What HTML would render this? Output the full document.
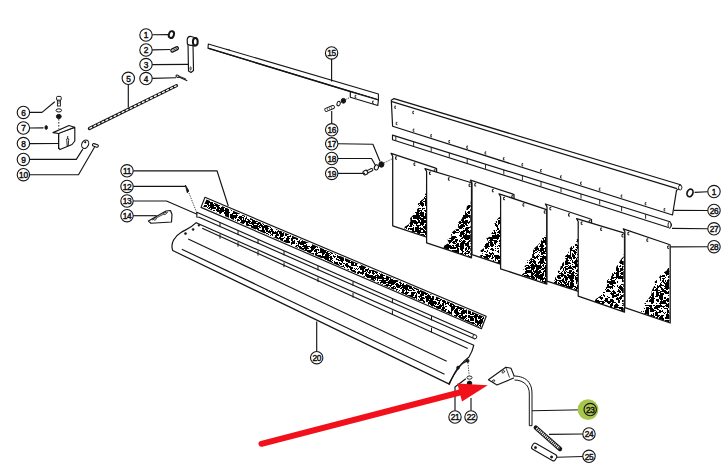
<!DOCTYPE html>
<html><head><meta charset="utf-8"><title>Parts diagram</title>
<style>
html,body{margin:0;padding:0;background:#fff;}
body{width:725px;height:465px;overflow:hidden;}
svg{display:block;}
svg text{font-family:"Liberation Sans",sans-serif;font-size:8.3px;text-anchor:middle;fill:#111;stroke:#111;stroke-width:0.42px;letter-spacing:-0.3px;}
</style></head><body>
<svg width="725" height="465" viewBox="0 0 725 465">
<rect width="725" height="465" fill="#fff"/>
<defs><filter id="tx0" x="0" y="0" width="1" height="1"><feTurbulence type="fractalNoise" baseFrequency="0.2" numOctaves="3" seed="3" result="n"/><feColorMatrix in="n" type="matrix" values="0 0 0 0 0 0 0 0 0 0 0 0 0 0 0 1 0 0 0 0" result="m"/><feComponentTransfer in="m" result="q"><feFuncA type="discrete" tableValues="1 1 1 1 1 1 1 1 1 1 1 1 1 1 1 1 1 1 0 0 0 0 1 1 1 1 1 1 1 1 1 1 1 1 1 1 1 1 1 1"/></feComponentTransfer><feComposite in="q" in2="SourceAlpha" operator="in"/></filter><filter id="tx1" x="0" y="0" width="1" height="1"><feTurbulence type="fractalNoise" baseFrequency="0.2" numOctaves="3" seed="8" result="n"/><feColorMatrix in="n" type="matrix" values="0 0 0 0 0 0 0 0 0 0 0 0 0 0 0 1 0 0 0 0" result="m"/><feComponentTransfer in="m" result="q"><feFuncA type="discrete" tableValues="1 1 1 1 1 1 1 1 1 1 1 1 1 1 1 1 1 0 0 0 0 0 1 1 1 1 1 1 1 1 1 1 1 1 1 1 1 1 1 1"/></feComponentTransfer><feComposite in="q" in2="SourceAlpha" operator="in"/></filter><filter id="tx2" x="0" y="0" width="1" height="1"><feTurbulence type="fractalNoise" baseFrequency="0.2" numOctaves="3" seed="13" result="n"/><feColorMatrix in="n" type="matrix" values="0 0 0 0 0 0 0 0 0 0 0 0 0 0 0 1 0 0 0 0" result="m"/><feComponentTransfer in="m" result="q"><feFuncA type="discrete" tableValues="1 1 1 1 1 1 1 1 1 1 1 1 1 1 1 1 1 0 0 0 0 0 1 1 1 1 1 1 1 1 1 1 1 1 1 1 1 1 1 1"/></feComponentTransfer><feComposite in="q" in2="SourceAlpha" operator="in"/></filter><filter id="tx3" x="0" y="0" width="1" height="1"><feTurbulence type="fractalNoise" baseFrequency="0.2" numOctaves="3" seed="18" result="n"/><feColorMatrix in="n" type="matrix" values="0 0 0 0 0 0 0 0 0 0 0 0 0 0 0 1 0 0 0 0" result="m"/><feComponentTransfer in="m" result="q"><feFuncA type="discrete" tableValues="1 1 1 1 1 1 1 1 1 1 1 1 1 1 1 1 1 1 0 0 0 0 1 1 1 1 1 1 1 1 1 1 1 1 1 1 1 1 1 1"/></feComponentTransfer><feComposite in="q" in2="SourceAlpha" operator="in"/></filter><filter id="tx4" x="0" y="0" width="1" height="1"><feTurbulence type="fractalNoise" baseFrequency="0.2" numOctaves="3" seed="23" result="n"/><feColorMatrix in="n" type="matrix" values="0 0 0 0 0 0 0 0 0 0 0 0 0 0 0 1 0 0 0 0" result="m"/><feComponentTransfer in="m" result="q"><feFuncA type="discrete" tableValues="1 1 1 1 1 1 1 1 1 1 1 1 1 1 1 1 1 0 0 0 0 0 1 1 1 1 1 1 1 1 1 1 1 1 1 1 1 1 1 1"/></feComponentTransfer><feComposite in="q" in2="SourceAlpha" operator="in"/></filter><filter id="tx5" x="0" y="0" width="1" height="1"><feTurbulence type="fractalNoise" baseFrequency="0.2" numOctaves="3" seed="28" result="n"/><feColorMatrix in="n" type="matrix" values="0 0 0 0 0 0 0 0 0 0 0 0 0 0 0 1 0 0 0 0" result="m"/><feComponentTransfer in="m" result="q"><feFuncA type="discrete" tableValues="1 1 1 1 1 1 1 1 1 1 1 1 1 1 1 1 0 0 0 0 0 0 1 1 1 1 1 1 1 1 1 1 1 1 1 1 1 1 1 1"/></feComponentTransfer><feComposite in="q" in2="SourceAlpha" operator="in"/></filter><filter id="tx6" x="0" y="0" width="1" height="1"><feTurbulence type="fractalNoise" baseFrequency="0.2" numOctaves="3" seed="33" result="n"/><feColorMatrix in="n" type="matrix" values="0 0 0 0 0 0 0 0 0 0 0 0 0 0 0 1 0 0 0 0" result="m"/><feComponentTransfer in="m" result="q"><feFuncA type="discrete" tableValues="1 1 1 1 1 1 1 1 1 1 1 1 1 1 1 1 1 0 0 0 0 0 1 1 1 1 1 1 1 1 1 1 1 1 1 1 1 1 1 1"/></feComponentTransfer><feComposite in="q" in2="SourceAlpha" operator="in"/></filter><filter id="ty" x="0" y="0" width="1" height="1"><feTurbulence type="fractalNoise" baseFrequency="0.2" numOctaves="3" seed="5" result="n"/><feColorMatrix in="n" type="matrix" values="0 0 0 0 0 0 0 0 0 0 0 0 0 0 0 1 0 0 0 0" result="m"/><feComponentTransfer in="m" result="q"><feFuncA type="discrete" tableValues="1 1 1 1 1 1 1 1 1 1 1 1 1 1 1 1 1 1 0 0 0 0 1 1 1 1 1 1 1 1 1 1 1 1 1 1 1 1 1 1"/></feComponentTransfer><feComposite in="q" in2="SourceAlpha" operator="in"/></filter></defs>
<polygon points="391.3,100.2 394,98.6 680.5,184.8 681.5,187.5 676.5,190.3 672.5,215 392.6,126.3" stroke="#141414" stroke-width="1.2" fill="#fff" stroke-linejoin="round" /><line x1="392" y1="101.6" x2="677" y2="188.6" stroke="#141414" stroke-width="1.2" /><ellipse cx="690" cy="192.9" rx="2.9" ry="3.9" stroke="#141414" stroke-width="1.7" fill="#fff" transform="rotate(20 690 192.9)"/><ellipse cx="680.2" cy="187.6" rx="1.7" ry="2.4" stroke="#141414" stroke-width="0.9" fill="#fff" transform="rotate(0 680.2 187.6)"/><path d="M396,106.1 h-1.2 v2.2 h1.2" stroke="#141414" stroke-width="0.9" fill="none"/><path d="M414,111.4 h-1.2 v2.2 h1.2" stroke="#141414" stroke-width="0.9" fill="none"/><path d="M397.4,122.4 h-1.2 v2.2 h1.2" stroke="#141414" stroke-width="0.9" fill="none"/><path d="M414.4,129.1 h-1.2 v2.2 h1.2" stroke="#141414" stroke-width="0.9" fill="none"/><path d="M432,134.7 h-1.2 v2.2 h1.2" stroke="#141414" stroke-width="0.9" fill="none"/><path d="M450.1,140.5 h-1.2 v2.2 h1.2" stroke="#141414" stroke-width="0.9" fill="none"/><path d="M468,146.1 h-1.2 v2.2 h1.2" stroke="#141414" stroke-width="0.9" fill="none"/><path d="M486.3,151.9 h-1.2 v2.2 h1.2" stroke="#141414" stroke-width="0.9" fill="none"/><path d="M504.6,157.7 h-1.2 v2.2 h1.2" stroke="#141414" stroke-width="0.9" fill="none"/><path d="M523.2,163.6 h-1.2 v2.2 h1.2" stroke="#141414" stroke-width="0.9" fill="none"/><path d="M541.8,169.5 h-1.2 v2.2 h1.2" stroke="#141414" stroke-width="0.9" fill="none"/><path d="M561.8,175.8 h-1.2 v2.2 h1.2" stroke="#141414" stroke-width="0.9" fill="none"/><path d="M581.8,182.1 h-1.2 v2.2 h1.2" stroke="#141414" stroke-width="0.9" fill="none"/><path d="M600.5,188.1 h-1.2 v2.2 h1.2" stroke="#141414" stroke-width="0.9" fill="none"/><path d="M622.4,195 h-1.2 v2.2 h1.2" stroke="#141414" stroke-width="0.9" fill="none"/><path d="M646.4,202.6 h-1.2 v2.2 h1.2" stroke="#141414" stroke-width="0.9" fill="none"/><path d="M665.3,208.6 h-1.2 v2.2 h1.2" stroke="#141414" stroke-width="0.9" fill="none"/><polygon points="392.5,135.1 670,221.8 671.5,225 670,228 392.5,139.7" stroke="#141414" stroke-width="1.15" fill="#fff" stroke-linejoin="round" /><ellipse cx="669.5" cy="225" rx="1.5" ry="3" stroke="#141414" stroke-width="0.9" fill="#fff" transform="rotate(0 669.5 225)"/><line x1="395.8" y1="136.1" x2="395.8" y2="140.7" stroke="#141414" stroke-width="0.9" /><line x1="413.6" y1="141.7" x2="413.6" y2="146.3" stroke="#141414" stroke-width="0.9" /><line x1="431.2" y1="147.2" x2="431.2" y2="151.8" stroke="#141414" stroke-width="0.9" /><line x1="449.3" y1="152.9" x2="449.3" y2="157.5" stroke="#141414" stroke-width="0.9" /><line x1="467.2" y1="158.5" x2="467.2" y2="163.1" stroke="#141414" stroke-width="0.9" /><line x1="485.5" y1="164.2" x2="485.5" y2="168.8" stroke="#141414" stroke-width="0.9" /><line x1="503.8" y1="169.9" x2="503.8" y2="174.5" stroke="#141414" stroke-width="0.9" /><line x1="522.4" y1="175.7" x2="522.4" y2="180.3" stroke="#141414" stroke-width="0.9" /><line x1="541" y1="181.5" x2="541" y2="186.1" stroke="#141414" stroke-width="0.9" /><line x1="561" y1="187.8" x2="561" y2="192.4" stroke="#141414" stroke-width="0.9" /><line x1="581" y1="194" x2="581" y2="198.6" stroke="#141414" stroke-width="0.9" /><line x1="599.7" y1="199.9" x2="599.7" y2="204.5" stroke="#141414" stroke-width="0.9" /><line x1="621.6" y1="206.7" x2="621.6" y2="211.3" stroke="#141414" stroke-width="0.9" /><line x1="645.6" y1="214.2" x2="645.6" y2="218.8" stroke="#141414" stroke-width="0.9" /><polygon points="391.1,153.4 434.2,167.7 436.6,168.7 436.6,240.5 392.7,225.8 392.7,156.3" fill="#fff" stroke="#141414" stroke-width="1.25" stroke-linejoin="round"/><polygon points="435.8,239.9 404.5,229.1 404.7,226.8 409.2,224 410.5,221.2 410.1,218.3 412.8,215.5 414.2,212.7 416.7,209.9 418.9,207.1 417.8,204.3 419.2,201.4 424,198.6 424.1,195.8 426,193 428.8,190.2 427.5,187.3 431.1,184.5 434,181.7 433.7,178.8 435.8,176" fill="#000" filter="url(#tx0)"/><path d="M397,156.8 h-1.4 v2.4 h1.4" stroke="#141414" stroke-width="1" fill="none"/><path d="M415.4,163 h-1.4 v2.4 h1.4" stroke="#141414" stroke-width="1" fill="none"/><path d="M435.6,169.8 h-1.4 v2.4 h1.4" stroke="#141414" stroke-width="1" fill="none"/><polygon points="425,168.6 469.1,182 471.5,183 471.5,257.8 426.6,242.9 426.6,171.5" fill="#fff" stroke="#141414" stroke-width="1.25" stroke-linejoin="round"/><polygon points="470.7,257.2 443.5,248.1 444.2,245.7 449,242.7 447.4,239.8 451.6,236.8 450.9,233.8 453.4,230.9 458.2,227.9 458,225 458.5,221.9 461.9,218.8 462.9,215.6 464.6,212.5 466.4,209.4 466.9,206.2 471.1,203.1 470.7,200" fill="#000" filter="url(#tx1)"/><path d="M430.9,172 h-1.4 v2.4 h1.4" stroke="#141414" stroke-width="1" fill="none"/><path d="M449.8,177.8 h-1.4 v2.4 h1.4" stroke="#141414" stroke-width="1" fill="none"/><path d="M470.5,184.1 h-1.4 v2.4 h1.4" stroke="#141414" stroke-width="1" fill="none"/><polygon points="470.4,180.2 511.6,193.6 514,194.6 514,268.6 472,254.6 472,183.1" fill="#fff" stroke="#141414" stroke-width="1.25" stroke-linejoin="round"/><polygon points="513.2,268 479.2,256.3 482.5,253.8 480.2,250.8 484.5,247.8 483.7,244.8 488.5,241.8 486,238.8 490.9,235.9 491.6,232.9 493.8,229.9 495.8,226.9 494.2,223.9 496.1,220.9 498.2,217.9 501.7,215.8 502.6,213.6 505.2,211.4 507.6,209.3 512.8,207.2 513.2,205" fill="#000" filter="url(#tx2)"/><path d="M476.2,183.6 h-1.4 v2.4 h1.4" stroke="#141414" stroke-width="1" fill="none"/><path d="M493.8,189.4 h-1.4 v2.4 h1.4" stroke="#141414" stroke-width="1" fill="none"/><path d="M513.2,195.7 h-1.4 v2.4 h1.4" stroke="#141414" stroke-width="1" fill="none"/><polygon points="499,193.8 544.4,208.8 546.8,209.8 546.8,284.2 500.6,268.8 500.6,196.7" fill="#fff" stroke="#141414" stroke-width="1.25" stroke-linejoin="round"/><polygon points="546,283.6 521.6,275.1 524.8,272.1 523,268.5 525.8,265 526,261.3 532.1,257.7 532.2,254 532.9,251 534.5,248 538,245 540.8,241.8 541.8,238.5 546.2,235.2 546,232" fill="#000" filter="url(#tx3)"/><path d="M505,197.3 h-1.4 v2.4 h1.4" stroke="#141414" stroke-width="1" fill="none"/><path d="M524.4,203.7 h-1.4 v2.4 h1.4" stroke="#141414" stroke-width="1" fill="none"/><path d="M545.7,210.8 h-1.4 v2.4 h1.4" stroke="#141414" stroke-width="1" fill="none"/><polygon points="545.4,204 589.1,218.5 591.5,219.5 591.5,295.6 547,281.2 547,206.9" fill="#fff" stroke="#141414" stroke-width="1.25" stroke-linejoin="round"/><polygon points="590.7,295 553,282.7 554.6,280.3 555.2,277.4 558.6,274.5 557.8,271.6 560.1,268.7 560.9,265.8 562.6,262.9 566.3,260 564.2,257.1 567.2,254.2 568.8,251.4 569.7,248.5 572,245.7 576.4,242.8 576.2,240 578.6,238.4 582.8,236.8 585.1,235.2 589.4,233.6 590.7,232" fill="#000" filter="url(#tx4)"/><path d="M551.3,207.4 h-1.4 v2.4 h1.4" stroke="#141414" stroke-width="1" fill="none"/><path d="M570,213.7 h-1.4 v2.4 h1.4" stroke="#141414" stroke-width="1" fill="none"/><path d="M590.5,220.6 h-1.4 v2.4 h1.4" stroke="#141414" stroke-width="1" fill="none"/><polygon points="576.6,218.6 622.1,232.4 624.5,233.4 624.5,312.2 578.2,296.2 578.2,221.5" fill="#fff" stroke="#141414" stroke-width="1.25" stroke-linejoin="round"/><polygon points="623.7,311.6 594.5,301.5 595.8,299 600.3,296 602.1,293 603.9,290 605.3,287 607.6,284 606.1,281 610,278 612.1,275.2 612.2,272.4 615.8,269.7 616.2,266.9 618.3,264.1 619.8,261.3 621.6,258.6 624.2,255.8 623.7,253" fill="#000" filter="url(#tx5)"/><path d="M582.6,222 h-1.4 v2.4 h1.4" stroke="#141414" stroke-width="1" fill="none"/><path d="M602.1,228 h-1.4 v2.4 h1.4" stroke="#141414" stroke-width="1" fill="none"/><path d="M623.4,234.5 h-1.4 v2.4 h1.4" stroke="#141414" stroke-width="1" fill="none"/><polygon points="623.3,228.9 667.8,244 670.2,245 670.2,323 624.9,307.7 624.9,231.8" fill="#fff" stroke="#141414" stroke-width="1.25" stroke-linejoin="round"/><polygon points="669.4,322.4 641.3,312.5 641,309.8 645.1,306.7 644.4,303.5 647.2,300.3 649.5,297.2 651.5,294 651.6,290.8 653.3,287.7 654.8,284.5 654.8,281.6 658.4,278.7 660.1,275.8 662.6,272.9 666.5,270.8 667.9,268.6 669.4,266.5" fill="#000" filter="url(#tx6)"/><path d="M629.3,232.4 h-1.4 v2.4 h1.4" stroke="#141414" stroke-width="1" fill="none"/><path d="M648.3,238.9 h-1.4 v2.4 h1.4" stroke="#141414" stroke-width="1" fill="none"/><path d="M669.1,246 h-1.4 v2.4 h1.4" stroke="#141414" stroke-width="1" fill="none"/><polygon points="205,197.3 486.2,316.3 481.4,328.7 201,207.4" stroke="#141414" stroke-width="1.15" fill="#fff" stroke-linejoin="round" /><polygon points="206.5,199.6 485,317.2 480.6,327.6 203.2,206.6" fill="#000" filter="url(#ty)"/><path d="M196.2,222.7 C191,228 186,229.5 181,232.5 C175,236 170,243 172.7,250.5 L448.8,383.9 C454,374 462,362 469,357 C471.5,353 473,349 473.8,345.2 Z" stroke="#141414" stroke-width="1.2" fill="#fff" stroke-linejoin="round" /><ellipse cx="185.5" cy="233.6" rx="1.1" ry="1" stroke="#141414" stroke-width="0.6" fill="#141414" transform="rotate(0 185.5 233.6)"/><ellipse cx="193.1" cy="229.4" rx="1" ry="1" stroke="#141414" stroke-width="0.6" fill="#141414" transform="rotate(0 193.1 229.4)"/><ellipse cx="198.9" cy="225.3" rx="0.9" ry="1" stroke="#141414" stroke-width="0.6" fill="#141414" transform="rotate(0 198.9 225.3)"/><line x1="202.2" y1="228.2" x2="467.7" y2="348.4" stroke="#141414" stroke-width="1.15" /><line x1="220" y1="234.2" x2="220" y2="238.8" stroke="#141414" stroke-width="1.0" /><line x1="238" y1="242.2" x2="238" y2="246.8" stroke="#141414" stroke-width="1.0" /><line x1="258" y1="251" x2="258" y2="255.6" stroke="#141414" stroke-width="1.0" /><line x1="284" y1="262.5" x2="284" y2="267.1" stroke="#141414" stroke-width="1.0" /><line x1="318" y1="277.5" x2="318" y2="282.1" stroke="#141414" stroke-width="1.0" /><line x1="353" y1="293" x2="353" y2="297.6" stroke="#141414" stroke-width="1.0" /><line x1="392.4" y1="310.4" x2="392.4" y2="315" stroke="#141414" stroke-width="1.0" /><line x1="431.5" y1="327.7" x2="431.5" y2="332.3" stroke="#141414" stroke-width="1.0" /><line x1="188.2" y1="238.9" x2="446.7" y2="361.3" stroke="#141414" stroke-width="1.15" /><line x1="181.8" y1="249.2" x2="444.5" y2="374.2" stroke="#141414" stroke-width="1.15" /><polygon points="196.8,212.3 474.6,334.8 476.6,336.8 474.6,338.8 199.2,217.2 196.8,217" stroke="#141414" stroke-width="1.15" fill="#fff" stroke-linejoin="round" /><circle cx="474.8" cy="336.8" r="2" stroke="#141414" stroke-width="0.9" fill="#fff"/><line x1="220" y1="222.8" x2="220" y2="227.1" stroke="#141414" stroke-width="1.0" /><line x1="238" y1="230.8" x2="238" y2="235.1" stroke="#141414" stroke-width="1.0" /><line x1="258" y1="239.6" x2="258" y2="243.9" stroke="#141414" stroke-width="1.0" /><line x1="284" y1="251.1" x2="284" y2="255.4" stroke="#141414" stroke-width="1.0" /><line x1="318" y1="266" x2="318" y2="270.3" stroke="#141414" stroke-width="1.0" /><line x1="353" y1="281.5" x2="353" y2="285.8" stroke="#141414" stroke-width="1.0" /><line x1="392.4" y1="298.9" x2="392.4" y2="303.2" stroke="#141414" stroke-width="1.0" /><line x1="431.5" y1="316.1" x2="431.5" y2="320.4" stroke="#141414" stroke-width="1.0" /><ellipse cx="458" cy="367.7" rx="1.3" ry="1.6" stroke="#141414" stroke-width="0.8" fill="#141414" transform="rotate(0 458 367.7)"/><ellipse cx="467.7" cy="360.8" rx="1.3" ry="1.6" stroke="#141414" stroke-width="0.8" fill="#141414" transform="rotate(0 467.7 360.8)"/><path d="M449,385 C452,378 455,372 458,367.7 C461,364 464,362 467.7,360.6" stroke="#141414" stroke-width="1.15" fill="none" stroke-linejoin="round" /><line x1="467.9" y1="362.5" x2="469.2" y2="375.5" stroke="#141414" stroke-width="0.8" stroke-dasharray="1.3 1.2"/><ellipse cx="469.5" cy="377.6" rx="2.6" ry="1.6" stroke="#141414" stroke-width="0.9" fill="#fff" transform="rotate(0 469.5 377.6)"/><ellipse cx="469.5" cy="383.2" rx="2.3" ry="2.1" stroke="#141414" stroke-width="0.9" fill="#141414" transform="rotate(0 469.5 383.2)"/><ellipse cx="171.4" cy="34.6" rx="2.5" ry="3.5" stroke="#141414" stroke-width="1.9" fill="#fff" transform="rotate(18 171.4 34.6)"/><rect x="-4" y="-1.5" width="8" height="3" rx="1.4" fill="#fff" stroke="#141414" stroke-width="1.3" transform="translate(174.6 49.4) rotate(-26)"/><line x1="172.6" y1="50.4" x2="177.2" y2="48.2" stroke="#141414" stroke-width="0.7" /><polygon points="188,44 193,44.5 193.5,70.5 191,72.5 188.5,71" stroke="#141414" stroke-width="1.15" fill="#fff" stroke-linejoin="round" /><ellipse cx="190.6" cy="68.5" rx="0.6" ry="1.6" stroke="#141414" stroke-width="0.8" fill="#fff" transform="rotate(0 190.6 68.5)"/><path d="M187.4,44 L187.2,39.5 Q187.6,36.6 190.3,36.3 L195.2,37.8 L195.2,45.8 L189.5,45.2 Z" stroke="#141414" stroke-width="1.2" fill="#fff" stroke-linejoin="round" /><ellipse cx="195.3" cy="41.8" rx="2.4" ry="3.8" stroke="#141414" stroke-width="2.0" fill="#fff" transform="rotate(0 195.3 41.8)"/><ellipse cx="177.5" cy="76.2" rx="1.6" ry="1.1" stroke="#141414" stroke-width="1.0" fill="#fff" transform="rotate(20 177.5 76.2)"/><line x1="179" y1="77" x2="187.3" y2="80.8" stroke="#141414" stroke-width="1.1" /><line x1="179" y1="76.2" x2="186" y2="79" stroke="#141414" stroke-width="0.9" /><line x1="89.4" y1="128.5" x2="176.5" y2="85.6" stroke="#141414" stroke-width="3.2" stroke-linecap="round"/><line x1="89.4" y1="128.5" x2="176.5" y2="85.6" stroke="#fff" stroke-width="1.3" stroke-dasharray="3.0 1.5"/><rect x="56.6" y="96.4" width="4.6" height="4" rx="1" fill="#fff" stroke="#141414" stroke-width="1"/><rect x="57.4" y="100.2" width="3" height="5.8" fill="#fff" stroke="#141414" stroke-width="0.9"/><line x1="57.6" y1="102" x2="60.2" y2="101.3" stroke="#141414" stroke-width="0.6" /><line x1="57.6" y1="103.5" x2="60.2" y2="102.8" stroke="#141414" stroke-width="0.6" /><ellipse cx="58.8" cy="110.4" rx="2.8" ry="1.6" stroke="#141414" stroke-width="1.0" fill="#fff" transform="rotate(0 58.8 110.4)"/><ellipse cx="58.8" cy="116.5" rx="2.4" ry="2.1" stroke="#141414" stroke-width="1.0" fill="#141414" transform="rotate(0 58.8 116.5)"/><line x1="58.8" y1="119" x2="58.8" y2="128.7" stroke="#141414" stroke-width="0.9" stroke-dasharray="1.6 1.4"/><ellipse cx="46.2" cy="127.5" rx="1.3" ry="1.9" stroke="#141414" stroke-width="0.8" fill="#141414" transform="rotate(0 46.2 127.5)"/><polygon points="58.6,133 74.8,127.4 74.8,141 72,144.5 60,149.5 58.6,148" stroke="#141414" stroke-width="1.15" fill="#fff" stroke-linejoin="round" /><polygon points="53,132.6 69,125.5 74.5,127.3 58.6,133.5" stroke="#141414" stroke-width="1.15" fill="#fff" stroke-linejoin="round" /><line x1="58.6" y1="133.5" x2="58.6" y2="149" stroke="#141414" stroke-width="1.1" /><path d="M67.7,136 v3 M66.8,140.5 a1,1.4 0 1 1 1.8,0 l-0.4,5.5 h-1 z" stroke="#141414" stroke-width="0.9" fill="#fff"/><ellipse cx="85.2" cy="144.2" rx="3.3" ry="4.4" stroke="#141414" stroke-width="1.1" fill="#fff" transform="rotate(25 85.2 144.2)"/><ellipse cx="85.3" cy="142.2" rx="0.8" ry="0.9" stroke="#141414" stroke-width="0.5" fill="#141414" transform="rotate(0 85.3 142.2)"/><rect x="-3" y="-1.3" width="6" height="2.6" rx="1.2" fill="#fff" stroke="#141414" stroke-width="1.1" transform="translate(95.4 145.4) rotate(18)"/><polygon points="208.3,44 378.4,94 378.4,100 208,48.2" stroke="#141414" stroke-width="1.1" fill="#fff" stroke-linejoin="round" /><line x1="208" y1="48.2" x2="378.4" y2="100" stroke="#141414" stroke-width="1.4" /><polygon points="350.3,91.8 378.4,100 377.8,105.5 350.3,97.3" stroke="#141414" stroke-width="1.15" fill="#fff" stroke-linejoin="round" /><path d="M356.3,95.4 h-1.2 v2.2 h1.2" stroke="#141414" stroke-width="0.9" fill="none"/><path d="M373.8,101.1 h-1.2 v2.2 h1.2" stroke="#141414" stroke-width="0.9" fill="none"/><line x1="226" y1="49.2" x2="230" y2="50" stroke="#141414" stroke-width="0.8" /><rect x="-5" y="-1.6" width="10" height="3.2" rx="1.2" fill="#fff" stroke="#141414" stroke-width="0.9" transform="translate(329.6 108.4) rotate(-22)"/><line x1="327" y1="108" x2="327.8" y2="110.4" stroke="#141414" stroke-width="0.6" /><line x1="329" y1="107.3" x2="329.8" y2="109.7" stroke="#141414" stroke-width="0.6" /><line x1="331" y1="106.5" x2="331.8" y2="108.9" stroke="#141414" stroke-width="0.6" /><ellipse cx="338.6" cy="103.6" rx="1.6" ry="2.3" stroke="#141414" stroke-width="1.0" fill="#fff" transform="rotate(20 338.6 103.6)"/><ellipse cx="343.4" cy="100.8" rx="2.2" ry="2.4" stroke="#141414" stroke-width="1.0" fill="#141414" transform="rotate(0 343.4 100.8)"/><line x1="345.5" y1="99.6" x2="350" y2="97.5" stroke="#141414" stroke-width="0.8" stroke-dasharray="1.3 1.2"/><ellipse cx="381.4" cy="164.5" rx="2.5" ry="2.7" stroke="#141414" stroke-width="1.0" fill="#141414" transform="rotate(0 381.4 164.5)"/><ellipse cx="376.4" cy="167.4" rx="2" ry="2.6" stroke="#141414" stroke-width="1.1" fill="#fff" transform="rotate(20 376.4 167.4)"/><rect x="-3" y="-1.2" width="7" height="2.4" rx="0.8" fill="#fff" stroke="#141414" stroke-width="1" transform="translate(369 171) rotate(-26)"/><rect x="-2.2" y="-2" width="4.4" height="4" rx="1.2" fill="#fff" stroke="#141414" stroke-width="1.1" transform="translate(365.4 172.6) rotate(-26)"/><line x1="384" y1="163" x2="392.8" y2="158.5" stroke="#141414" stroke-width="0.8" stroke-dasharray="1.3 1.2"/><path d="M185.3,185 l1.5,2.5 l2,3.5 l-1.5,1.8 z" stroke="#141414" stroke-width="0.9" fill="#141414" stroke-linejoin="round" /><line x1="189" y1="193" x2="197.3" y2="214.2" stroke="#141414" stroke-width="0.8" stroke-dasharray="1.3 1.2"/><polygon points="148.4,221 166,211 170.5,210.5 172,214.5 171.5,222 151,223.3" stroke="#141414" stroke-width="1.15" fill="#fff" stroke-linejoin="round" /><line x1="152" y1="220" x2="168" y2="212" stroke="#141414" stroke-width="0.8" /><ellipse cx="155" cy="219" rx="1.4" ry="0.9" stroke="#141414" stroke-width="0.8" fill="#fff" transform="rotate(-25 155 219)"/><ellipse cx="165" cy="213.5" rx="1.4" ry="0.9" stroke="#141414" stroke-width="0.8" fill="#fff" transform="rotate(-25 165 213.5)"/><polygon points="488.4,379.8 505.8,367.2 511,368.2 514.8,377.6 497,385" stroke="#141414" stroke-width="1.1" fill="#fff" stroke-linejoin="round" /><line x1="505.8" y1="367.2" x2="509.5" y2="377.5" stroke="#141414" stroke-width="0.8" /><ellipse cx="493.4" cy="381" rx="1.5" ry="1" stroke="#141414" stroke-width="0.8" fill="#fff" transform="rotate(-30 493.4 381)"/><ellipse cx="503.3" cy="371.8" rx="1.5" ry="1" stroke="#141414" stroke-width="0.8" fill="#fff" transform="rotate(-30 503.3 371.8)"/><path d="M513.5,376 C520,376 526,378 529,382.5 C531.5,386 532,390 532,394 L532,425.7 L529.3,425.7 L529.3,394 C529.3,390 528.5,387.5 526.5,385 C523.5,381.5 519,380 514.5,380" stroke="#141414" stroke-width="1.0" fill="#fff" stroke-linejoin="round" /><line x1="535.8" y1="427.6" x2="560" y2="449" stroke="#141414" stroke-width="4.4" stroke-linecap="round"/><line x1="536.5" y1="428.2" x2="559.3" y2="448.4" stroke="#fff" stroke-width="2.4" stroke-dasharray="1.1 0.9"/><rect x="-13.5" y="-3.4" width="27" height="6.8" rx="2.2" fill="#fff" stroke="#141414" stroke-width="1.1" transform="translate(544.2 452) rotate(30)"/><ellipse cx="535.5" cy="447.6" rx="1.1" ry="1.1" stroke="#141414" stroke-width="0.8" fill="#141414" transform="rotate(0 535.5 447.6)"/><ellipse cx="551.6" cy="457" rx="1.1" ry="1.1" stroke="#141414" stroke-width="0.8" fill="#141414" transform="rotate(0 551.6 457)"/><line x1="152.2" y1="34.8" x2="169" y2="34.6" stroke="#141414" stroke-width="1.15" /><line x1="152.2" y1="49.9" x2="170" y2="49.5" stroke="#141414" stroke-width="1.15" /><line x1="152.2" y1="64.6" x2="188" y2="64.4" stroke="#141414" stroke-width="1.15" /><line x1="152.2" y1="78.4" x2="176" y2="77.8" stroke="#141414" stroke-width="1.15" /><line x1="128.3" y1="84.5" x2="128.3" y2="107.6" stroke="#141414" stroke-width="1.15" /><polyline points="29.6,112.4 42,112.4 54.8,101.8" stroke="#141414" stroke-width="1.15" fill="none" stroke-linejoin="round" /><line x1="29.6" y1="128" x2="43.5" y2="127.9" stroke="#141414" stroke-width="1.15" /><line x1="29.6" y1="143.6" x2="58.5" y2="143.5" stroke="#141414" stroke-width="1.15" /><polyline points="29.6,159.4 76.3,159.4 82.8,149.1" stroke="#141414" stroke-width="1.15" fill="none" stroke-linejoin="round" /><polyline points="29.6,174.7 78.5,174.7 94.6,147" stroke="#141414" stroke-width="1.15" fill="none" stroke-linejoin="round" /><polyline points="133.2,170.8 217,170.8 228.3,206" stroke="#141414" stroke-width="1.15" fill="none" stroke-linejoin="round" /><line x1="133.2" y1="186.4" x2="185.3" y2="186.4" stroke="#141414" stroke-width="1.15" /><polyline points="133.2,201 166.5,201 196.5,214" stroke="#141414" stroke-width="1.15" fill="none" stroke-linejoin="round" /><line x1="133.2" y1="215.7" x2="156.7" y2="215.7" stroke="#141414" stroke-width="1.15" /><line x1="331.6" y1="59.1" x2="331.6" y2="81.5" stroke="#141414" stroke-width="1.15" /><line x1="331.7" y1="123.6" x2="331.7" y2="111" stroke="#141414" stroke-width="1.15" /><polyline points="337.9,143.8 372.9,144.2 380,161.5" stroke="#141414" stroke-width="1.15" fill="none" stroke-linejoin="round" /><polyline points="337.9,158.5 371.5,158.5 375.8,166" stroke="#141414" stroke-width="1.15" fill="none" stroke-linejoin="round" /><line x1="337.9" y1="173.4" x2="365" y2="173.4" stroke="#141414" stroke-width="1.15" /><line x1="316.7" y1="351.5" x2="316.7" y2="321.6" stroke="#141414" stroke-width="1.15" /><polyline points="455,410.8 455,387 465.8,378.7" stroke="#141414" stroke-width="1.15" fill="none" stroke-linejoin="round" /><line x1="471" y1="410.8" x2="471" y2="398" stroke="#141414" stroke-width="1.15" /><line x1="532" y1="410.8" x2="584" y2="409.8" stroke="#141414" stroke-width="1.15" /><line x1="549" y1="434.4" x2="582.8" y2="434" stroke="#141414" stroke-width="1.15" /><line x1="557" y1="457.2" x2="582.8" y2="456.5" stroke="#141414" stroke-width="1.15" /><line x1="694.6" y1="192.4" x2="707.8" y2="191.8" stroke="#141414" stroke-width="1.15" /><line x1="674" y1="210.3" x2="707.8" y2="210.5" stroke="#141414" stroke-width="1.15" /><line x1="672" y1="228.4" x2="707.8" y2="228.8" stroke="#141414" stroke-width="1.15" /><line x1="670.5" y1="246.8" x2="707.8" y2="246.7" stroke="#141414" stroke-width="1.15" /><line x1="261.5" y1="443.8" x2="461.6" y2="392" stroke="#f2101a" stroke-width="6" stroke-linecap="round"/><polygon points="487.7,385.2 462,401.6 457.3,383.4" fill="#f2101a"/><circle cx="146" cy="35" r="6.2" stroke="#141414" stroke-width="1.1" fill="#fff"/><text x="146" y="38.3">1</text><circle cx="146" cy="50" r="6.2" stroke="#141414" stroke-width="1.1" fill="#fff"/><text x="146" y="53.3">2</text><circle cx="146" cy="64.6" r="6.2" stroke="#141414" stroke-width="1.1" fill="#fff"/><text x="146" y="67.9">3</text><circle cx="146" cy="78.6" r="6.2" stroke="#141414" stroke-width="1.1" fill="#fff"/><text x="146" y="81.9">4</text><circle cx="128.3" cy="78.3" r="6.2" stroke="#141414" stroke-width="1.1" fill="#fff"/><text x="128.3" y="81.6">5</text><circle cx="23.4" cy="112.4" r="6.2" stroke="#141414" stroke-width="1.1" fill="#fff"/><text x="23.4" y="115.7">6</text><circle cx="23.4" cy="128" r="6.2" stroke="#141414" stroke-width="1.1" fill="#fff"/><text x="23.4" y="131.3">7</text><circle cx="23.4" cy="143.6" r="6.2" stroke="#141414" stroke-width="1.1" fill="#fff"/><text x="23.4" y="146.9">8</text><circle cx="23.4" cy="159.4" r="6.2" stroke="#141414" stroke-width="1.1" fill="#fff"/><text x="23.4" y="162.7">9</text><circle cx="23.4" cy="174.7" r="6.2" stroke="#141414" stroke-width="1.1" fill="#fff"/><text x="23.4" y="178">10</text><circle cx="127" cy="170.8" r="6.2" stroke="#141414" stroke-width="1.1" fill="#fff"/><text x="127" y="174.1">11</text><circle cx="127" cy="186.4" r="6.2" stroke="#141414" stroke-width="1.1" fill="#fff"/><text x="127" y="189.7">12</text><circle cx="127" cy="201" r="6.2" stroke="#141414" stroke-width="1.1" fill="#fff"/><text x="127" y="204.3">13</text><circle cx="127" cy="215.7" r="6.2" stroke="#141414" stroke-width="1.1" fill="#fff"/><text x="127" y="219">14</text><circle cx="331.6" cy="52.9" r="6.2" stroke="#141414" stroke-width="1.1" fill="#fff"/><text x="331.6" y="56.2">15</text><circle cx="331.7" cy="129.8" r="6.2" stroke="#141414" stroke-width="1.1" fill="#fff"/><text x="331.7" y="133.1">16</text><circle cx="331.7" cy="143.8" r="6.2" stroke="#141414" stroke-width="1.1" fill="#fff"/><text x="331.7" y="147.1">17</text><circle cx="331.7" cy="158.5" r="6.2" stroke="#141414" stroke-width="1.1" fill="#fff"/><text x="331.7" y="161.8">18</text><circle cx="331.7" cy="173.4" r="6.2" stroke="#141414" stroke-width="1.1" fill="#fff"/><text x="331.7" y="176.7">19</text><circle cx="316.7" cy="357.7" r="6.2" stroke="#141414" stroke-width="1.1" fill="#fff"/><text x="316.7" y="361">20</text><circle cx="455" cy="417" r="6.2" stroke="#141414" stroke-width="1.1" fill="#fff"/><text x="455" y="420.3">21</text><circle cx="471" cy="417" r="6.2" stroke="#141414" stroke-width="1.1" fill="#fff"/><text x="471" y="420.3">22</text><circle cx="588" cy="409.6" r="10.4" fill="#a8c64c"/><circle cx="590.2" cy="409.6" r="6.2" stroke="#141414" stroke-width="1.1" fill="none"/><text x="590.2" y="412.9">23</text><circle cx="589" cy="433.9" r="6.2" stroke="#141414" stroke-width="1.1" fill="#fff"/><text x="589" y="437.2">24</text><circle cx="589" cy="456.3" r="6.2" stroke="#141414" stroke-width="1.1" fill="#fff"/><text x="589" y="459.6">25</text><circle cx="714" cy="191.6" r="6.2" stroke="#141414" stroke-width="1.1" fill="#fff"/><text x="714" y="194.9">1</text><circle cx="714" cy="210.5" r="6.2" stroke="#141414" stroke-width="1.1" fill="#fff"/><text x="714" y="213.8">26</text><circle cx="714" cy="228.8" r="6.2" stroke="#141414" stroke-width="1.1" fill="#fff"/><text x="714" y="232.1">27</text><circle cx="714" cy="246.7" r="6.2" stroke="#141414" stroke-width="1.1" fill="#fff"/><text x="714" y="250">28</text>
</svg>
</body></html>
